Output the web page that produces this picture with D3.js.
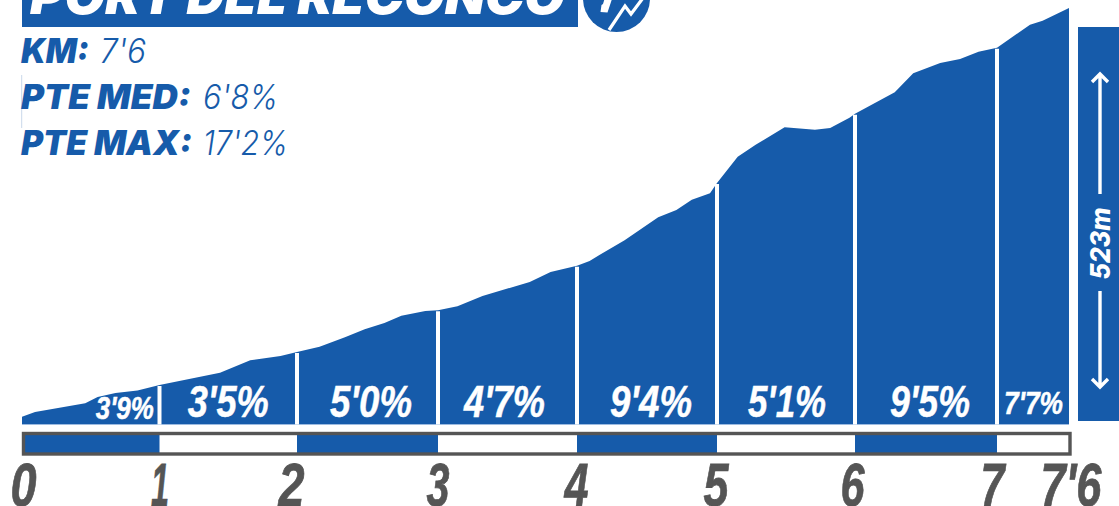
<!DOCTYPE html>
<html><head><meta charset="utf-8">
<script src="https://cdn.jsdelivr.net/npm/d3@7"></script>
<style>
html,body{margin:0;padding:0;background:#fff;overflow:hidden}
svg{display:block}
</style></head><body>
<svg id="c" width="1119" height="506"></svg>
<script>
const title = "PORT DEL RECONCO";
const statNames = ["KM:", "PTE MED:", "PTE MAX:"];
const statValues = ["7'6", "6'8%", "17'2%"];
const kmTicks = [0, 1, 2, 3, 4, 5, 6, 7, 7.6];
const kmLabels = ["0", "1", "2", "3", "4", "5", "6", "7", "7'6"];
const gradients = ["3'9%", "3'5%", "5'0%", "4'7%", "9'4%", "5'1%", "9'5%", "7'7%"];
const climbLabel = "523m";
const profileKm = [0,.095,.46,.55,.68,.84,1,1.44,1.66,1.88,2,2.16,2.34,2.48,2.62,2.74,2.91,3,3.14,3.32,3.66,3.81,4,4.09,4.16,4.34,4.58,4.71,4.82,4.95,5,5.15,5.28,5.49,5.71,5.82,5.96,6,6.28,6.41,6.6,6.74,6.87,7,7.275,7.38,7.6];
const profileAlt = [9,15,26,34,39,42,49,64.5,80,85.5,90.5,97,109,119,127,136,142,143,148,161,178.5,191,199,205,212.5,231,260,269,282,290,303,336,351,373,370,372,385,390,417,441,454,459,468,473,502,507,523];

const BLUE = "#165baa", GREY = "#555555", WHITE = "#ffffff";
const SANS = "Inter, 'Open Sans', sans-serif";
const NARROW = "'Liberation Sans Narrow', 'Liberation Sans', sans-serif";

const svg = d3.select("#c");
const x = d3.scaleLinear().domain(kmTicks).range([22,159.5,297,438,577,717,855,997,1069]);
const y = d3.scaleLinear().domain([0,523]).range([424,8]);
const altAt = d3.scaleLinear().domain(profileKm).range(profileAlt);
const profile = d3.zip(profileKm, profileAlt);

// header
svg.append("rect").attr("x",22).attr("y",-5).attr("width",556).attr("height",32).attr("fill",BLUE);
svg.append("text").text(title).attr("x",30).attr("y",14)
  .attr("textLength",535).attr("lengthAdjust","spacingAndGlyphs")
  .attr("font-family",SANS).attr("font-size",50).attr("font-weight",900).attr("font-style","italic").attr("fill",WHITE);
svg.append("circle").attr("cx",616.5).attr("cy",-1.5).attr("r",33.5).attr("fill",BLUE);
svg.append("path").attr("d","M609 30L625 6L631 14L643 -2").attr("fill","none").attr("stroke",WHITE).attr("stroke-width",3.2);
svg.append("path").attr("d","M600.5 12L607.5 12.5L612 -1L604.5 -1L603 4L601.5 5Z").attr("fill",WHITE);

// stats
const statY = [63,109,155];
const nameW = [68,170,171], valX = [100,203,203], valW = [46,75,85];
svg.append("line").attr("x1",21.7).attr("x2",21.7).attr("y1",75).attr("y2",128).attr("stroke","#c9d8ea").attr("stroke-width",1);
statNames.forEach((n,i)=>{
  svg.append("text").text(n).attr("x",21).attr("y",statY[i]).attr("textLength",nameW[i]).attr("lengthAdjust","spacingAndGlyphs")
    .attr("font-family",SANS).attr("font-size",33.5).attr("font-weight",900).attr("font-style","italic").attr("fill",BLUE);
  svg.append("text").text(statValues[i]).attr("x",valX[i]).attr("y",statY[i]).attr("textLength",valW[i]).attr("lengthAdjust","spacingAndGlyphs")
    .attr("font-family",SANS).attr("font-size",33.5).attr("font-weight",300).attr("font-style","italic").attr("fill",BLUE);
});

// profile
const area = d3.area().x(d=>x(d[0])).y0(y(0)).y1(d=>y(d[1]));
svg.append("rect").attr("x",x(0)).attr("y",y(0)-.5).attr("width",x(7.6)-x(0)).attr("height",1.5).attr("fill","#9dbbe0");
svg.append("path").datum(profile).attr("d",area).attr("fill",BLUE);

// km separators
svg.append("g").selectAll("line").data(kmTicks.slice(1,8)).join("line")
  .attr("x1",d=>x(d)).attr("x2",d=>x(d)).attr("y1",d=>y(altAt(d))+1).attr("y2",y(0)+.5)
  .attr("stroke",WHITE).attr("stroke-width",4);

// gradient labels
const gradDx = [34,0,3.5,-3,4,1,4,0.5], gradW = [58,81,82,81,82,78,80,59], gradBase = [419,417,417,417,417,417,417,414], gradFs = [31,45,45,45,45,45,45,31];
svg.append("g").selectAll("text").data(gradients).join("text").text(d=>d)
  .attr("x",(d,i)=>(x(kmTicks[i])+x(kmTicks[i+1]))/2+gradDx[i])
  .attr("y",(d,i)=>gradBase[i]).attr("text-anchor","middle")
  .attr("textLength",(d,i)=>gradW[i]).attr("lengthAdjust","spacingAndGlyphs")
  .attr("font-family",NARROW).attr("font-weight",700).attr("font-style","italic")
  .attr("font-size",(d,i)=>gradFs[i]).attr("fill",WHITE)
  .attr("stroke",WHITE).attr("stroke-width",.5);

// scale bar
svg.append("g").selectAll("rect").data(kmTicks.slice(0,8).filter((d,i)=>i%2===0)).join("rect")
  .attr("x",d=>x(d)).attr("width",d=>x(d+1)-x(d)).attr("y",433).attr("height",20).attr("fill",BLUE);
svg.append("rect").attr("x",23.5).attr("y",433.5).attr("width",1046.5).attr("height",20.5)
  .attr("fill","none").attr("stroke",GREY).attr("stroke-width",3.4);

// km axis
const tickDx = [1,0,-6,-.5,-1,-1.5,-3,-5,1.5], tickW = [26,18,26,23,24,25,24,24,61];
const axis = d3.axisBottom(x).tickValues(kmTicks).tickFormat((d,i)=>kmLabels[i]).tickSize(0).tickPadding(0);
const ax = svg.append("g").attr("transform","translate(0,462)").call(axis);
ax.select(".domain").remove();
ax.selectAll("text")
  .attr("dy",0).attr("y",44).attr("x",(d,i)=>tickDx[i]).attr("text-anchor","middle")
  .attr("textLength",(d,i)=>tickW[i]).attr("lengthAdjust","spacingAndGlyphs")
  .attr("font-family",NARROW).attr("font-weight",700).attr("font-style","italic").attr("font-size",62).attr("fill",GREY)
  .attr("stroke",GREY).attr("stroke-width",.8);

// climb panel
svg.append("rect").attr("x",1078).attr("y",27).attr("width",41).attr("height",394).attr("fill",BLUE);
const ay = [[74,194],[387,291]];
svg.append("g").selectAll("path").data(ay).join("path")
  .attr("d",d=>{const s=d[0]<d[1]?1:-1;return `M1100 ${d[1]}L1100 ${d[0]+s}M1092 ${d[0]+8*s}L1100 ${d[0]}L1108 ${d[0]+8*s}`;})
  .attr("fill","none").attr("stroke",WHITE).attr("stroke-width",3.4);
svg.append("text").text(climbLabel).attr("transform","translate(1110,243.5) rotate(-90)").attr("text-anchor","middle")
  .attr("textLength",72).attr("lengthAdjust","spacingAndGlyphs")
  .attr("font-family",SANS).attr("font-size",27).attr("font-weight",800).attr("font-style","italic").attr("fill",WHITE);
</script>
</body></html>
